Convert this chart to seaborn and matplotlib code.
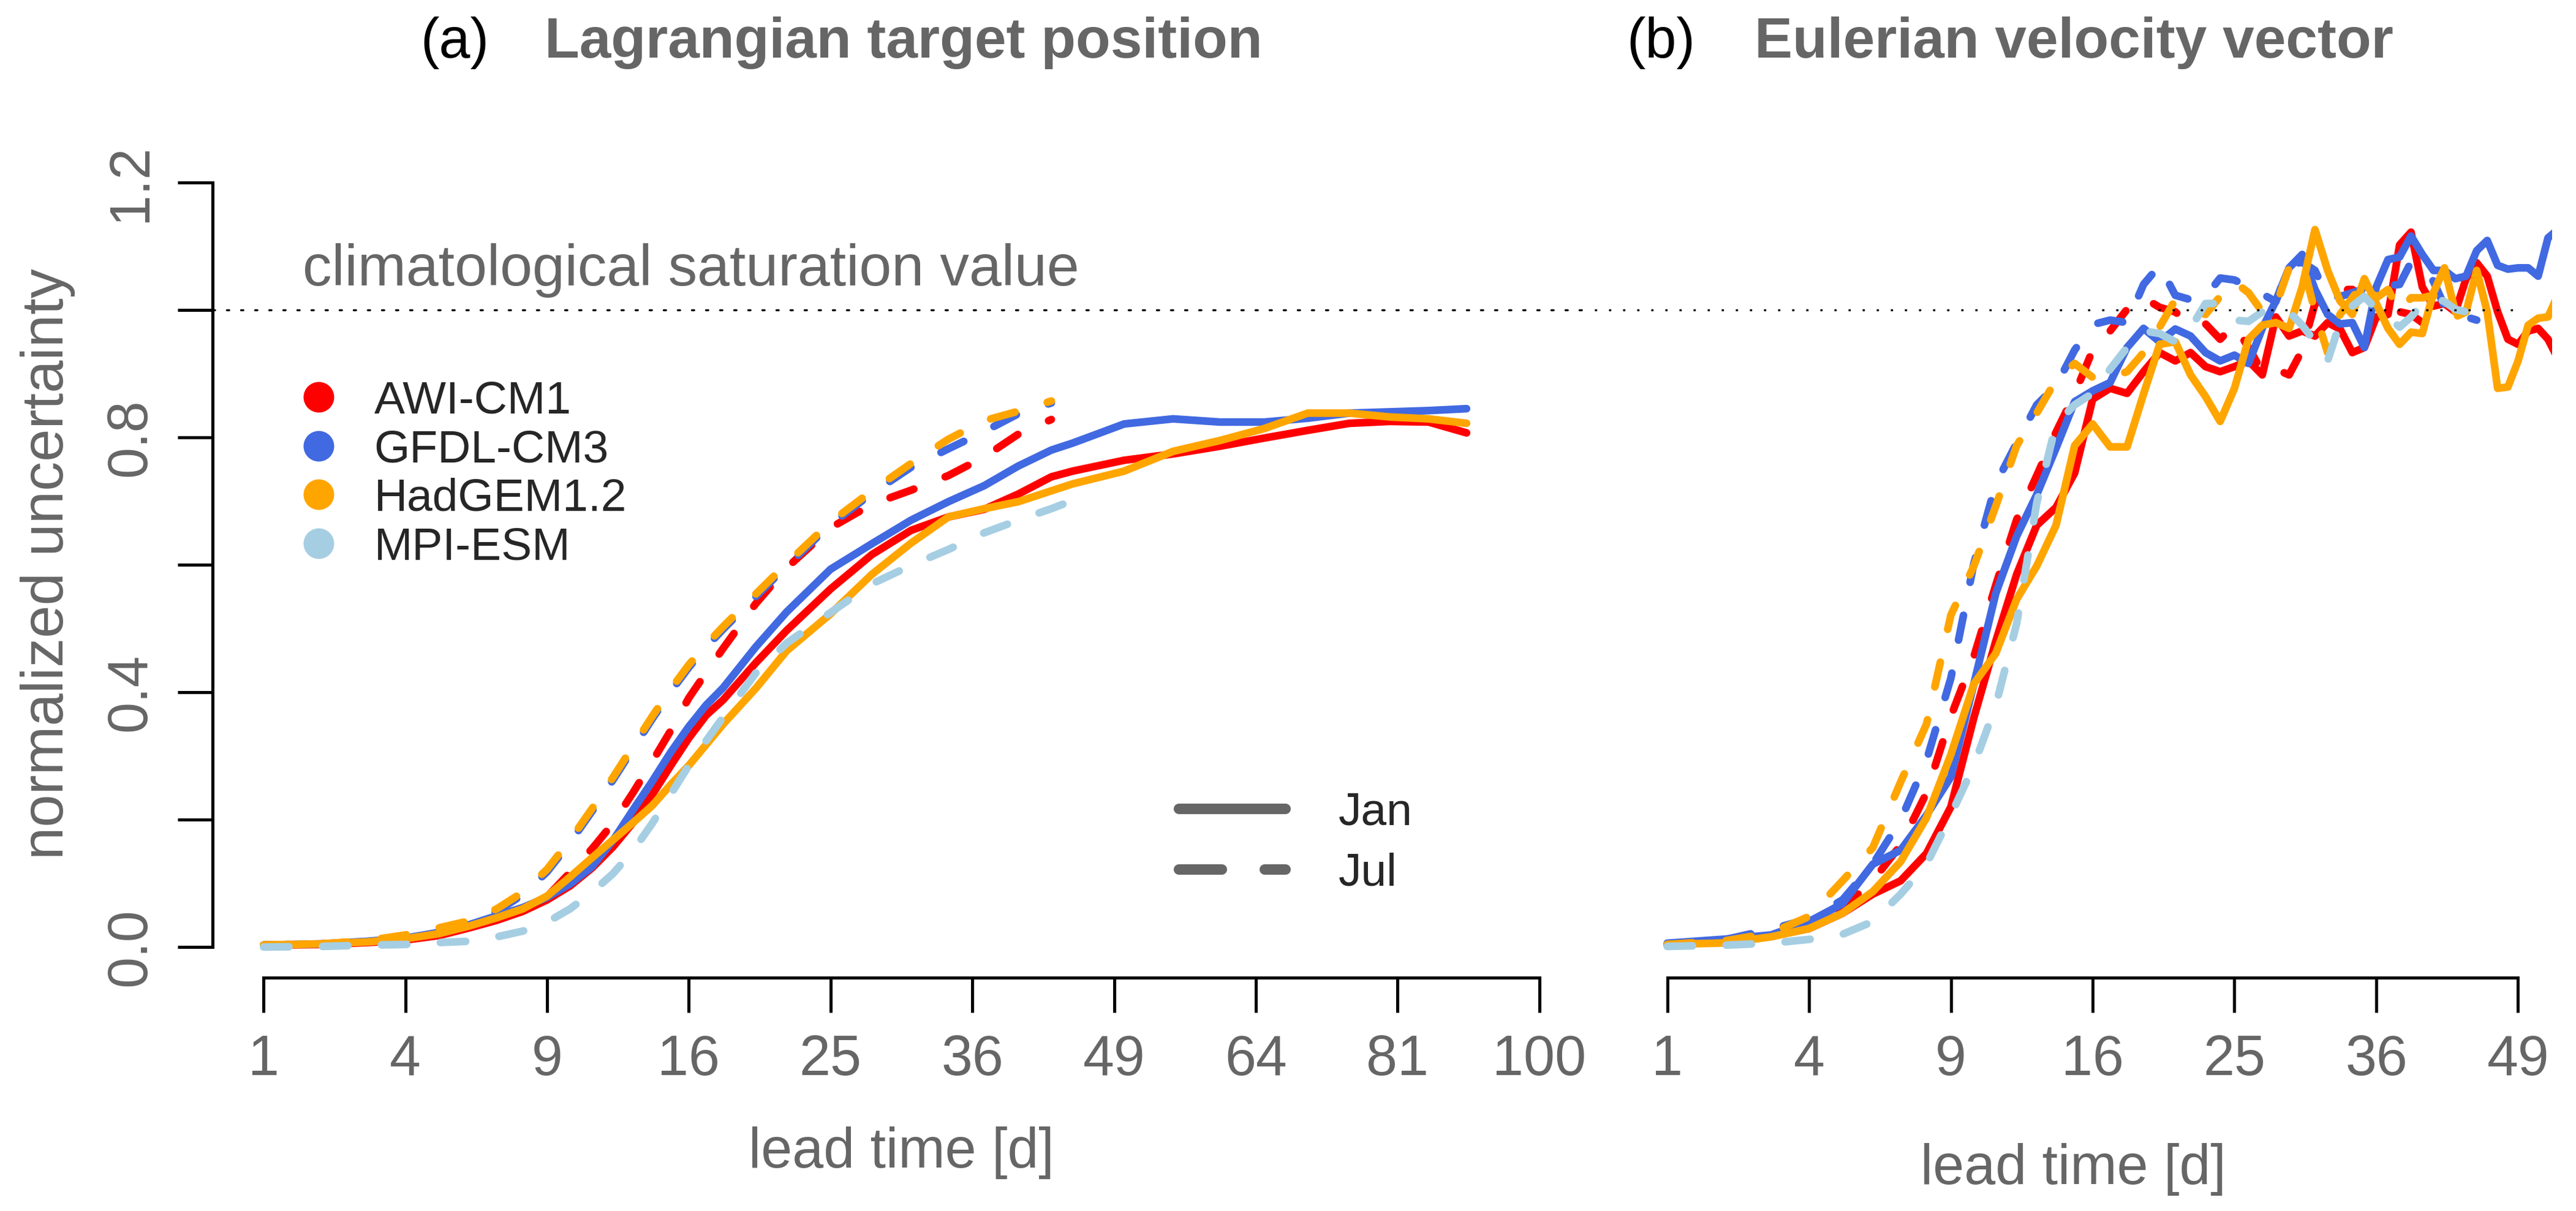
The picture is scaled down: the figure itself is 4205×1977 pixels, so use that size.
import numpy as np
import pandas as pd
import seaborn as sns
import matplotlib.pyplot as plt
from matplotlib.lines import Line2D
from matplotlib.ticker import NullLocator

models = ['AWI-CM1', 'GFDL-CM3', 'HadGEM1.2', 'MPI-ESM']
colors = ['#FF0000', '#4169E1', '#FFA500', '#A6CEE3']
grey = '#666666'

# ---- panel (a): Lagrangian target position ----
a_days = [1, 2, 3, 4, 5, 6, 7, 8, 9, 10, 11, 12, 13, 14, 15, 16, 17, 18, 20, 22,
          25, 28, 31, 34, 37, 40, 43, 45, 50, 55, 60, 65, 70, 75, 80, 85, 90]
a_days_jul = a_days[:27]      # Jul runs end at day 43
a_days_jul_mpi = a_days[:28]  # MPI Jul ends at day 45

a_awi_jan = [0.003, 0.004, 0.007, 0.011, 0.018, 0.030, 0.042, 0.056, 0.074, 0.096,
             0.124, 0.157, 0.195, 0.239, 0.285, 0.328, 0.364, 0.388, 0.446, 0.497,
             0.562, 0.616, 0.654, 0.675, 0.687, 0.711, 0.738, 0.747, 0.764, 0.774,
             0.786, 0.799, 0.811, 0.822, 0.825, 0.824, 0.807]
a_gfdl_jan = [0.003, 0.005, 0.009, 0.014, 0.023, 0.035, 0.049, 0.062, 0.078, 0.099,
              0.126, 0.167, 0.215, 0.260, 0.306, 0.346, 0.380, 0.407, 0.471, 0.526,
              0.593, 0.633, 0.670, 0.699, 0.724, 0.755, 0.780, 0.791, 0.821, 0.829,
              0.824, 0.824, 0.830, 0.838, 0.840, 0.842, 0.845]
a_had_jan = [0.003, 0.005, 0.008, 0.013, 0.021, 0.033, 0.046, 0.060, 0.080, 0.110,
             0.140, 0.168, 0.195, 0.222, 0.255, 0.285, 0.318, 0.350, 0.406, 0.465,
             0.523, 0.585, 0.634, 0.675, 0.688, 0.699, 0.716, 0.727, 0.747, 0.778,
             0.795, 0.814, 0.838, 0.838, 0.832, 0.829, 0.822]

a_awi_jul = [0.003, 0.005, 0.008, 0.014, 0.022, 0.033, 0.045, 0.056, 0.079, 0.117,
             0.154, 0.194, 0.242, 0.291, 0.340, 0.391, 0.431, 0.469, 0.539, 0.595,
             0.658, 0.695, 0.717, 0.740, 0.769, 0.805, 0.828]
a_gfdl_jul = [0.003, 0.004, 0.007, 0.015, 0.026, 0.037, 0.056, 0.082, 0.118, 0.164,
              0.213, 0.262, 0.311, 0.358, 0.401, 0.439, 0.471, 0.499, 0.550, 0.598,
              0.663, 0.712, 0.753, 0.782, 0.809, 0.837, 0.854]
a_had_jul = [0.003, 0.005, 0.010, 0.019, 0.030, 0.041, 0.060, 0.086, 0.122, 0.168,
             0.217, 0.266, 0.315, 0.362, 0.405, 0.443, 0.475, 0.503, 0.554, 0.602,
             0.667, 0.716, 0.759, 0.797, 0.826, 0.841, 0.857]
a_mpi_jul = [0.000, 0.001, 0.003, 0.004, 0.007, 0.009, 0.016, 0.025, 0.039, 0.060,
             0.086, 0.115, 0.151, 0.194, 0.240, 0.285, 0.324, 0.361, 0.430, 0.477,
             0.525, 0.570, 0.599, 0.624, 0.650, 0.670, 0.688, 0.701]

# ---- panel (b): Eulerian velocity vector ----
b_days_jan = list(range(1, 54))

b_awi_jan = [0.004, 0.010, 0.017, 0.029, 0.053, 0.083, 0.104, 0.147, 0.220, 0.360,
             0.480, 0.585, 0.662, 0.690, 0.744, 0.860, 0.877, 0.869, 0.903, 0.933,
             0.920, 0.933, 0.911, 0.903, 0.911, 0.920, 0.898, 0.989, 0.959, 0.967,
             0.959, 0.980, 0.970, 0.933, 0.941, 0.989, 0.993, 1.102, 1.122, 1.036,
             1.006, 1.010, 0.997, 1.049, 1.074, 1.053, 0.997, 0.954, 0.946, 0.967,
             0.971, 0.954, 0.924]
b_gfdl_jan = [0.006, 0.0125, 0.019, 0.040, 0.068, 0.130, 0.152, 0.207, 0.267, 0.413,
              0.555, 0.645, 0.710, 0.783, 0.856, 0.873, 0.886, 0.941, 0.971, 0.950,
              0.970, 0.959, 0.933, 0.920, 0.929, 0.916, 0.971, 1.014, 1.066, 1.087,
              1.032, 0.993, 0.978, 0.980, 0.941, 1.036, 1.079, 1.083, 1.116, 1.087,
              1.062, 1.062, 1.049, 1.053, 1.093, 1.109, 1.070, 1.064, 1.066, 1.066,
              1.053, 1.113, 1.126]
b_had_jan = [0.004, 0.0065, 0.016, 0.029, 0.053, 0.087, 0.134, 0.203, 0.302, 0.413,
             0.461, 0.546, 0.598, 0.662, 0.787, 0.821, 0.785, 0.785, 0.868, 0.946,
             0.950, 0.898, 0.864, 0.825, 0.877, 0.954, 0.976, 0.980, 0.971, 1.036,
             1.126, 1.062, 1.014, 0.993, 1.049, 1.010, 0.971, 0.946, 0.965, 0.963,
             1.027, 1.066, 0.997, 0.997, 1.062, 0.997, 0.877, 0.879, 0.920, 0.976,
             0.987, 0.989, 1.023]

b_awi_jul = [0.004, 0.008, 0.016, 0.040, 0.061, 0.104, 0.160, 0.242, 0.362, 0.456,
             0.568, 0.671, 0.740, 0.808, 0.868, 0.937, 0.967, 1.001, 1.019, 1.004,
             0.997, 0.976, 0.978, 0.954, 0.976, 0.941, 0.903, 0.907, 0.898, 0.937,
             1.010, 1.021, 1.032, 1.032, 1.019, 1.014, 1.010, 0.997, 0.993, 0.980,
             0.980, 0.997, 1.006]
b_gfdl_jul = [0.004, 0.012, 0.028, 0.044, 0.074, 0.130, 0.199, 0.293, 0.422, 0.602,
              0.727, 0.791, 0.851, 0.881, 0.937, 0.977, 0.984, 0.980, 1.040, 1.070,
              1.023, 1.016, 1.021, 1.050, 1.047, 1.036, 1.025, 1.013, 1.070, 1.075,
              1.062, 1.019, 1.021, 1.027, 1.033, 1.040, 1.038, 1.040, 1.075, 1.062,
              1.045, 1.006, 0.989, 0.989, 0.984]
b_had_jul = [0.004, 0.010, 0.022, 0.048, 0.104, 0.156, 0.259, 0.350, 0.521, 0.598,
             0.692, 0.787, 0.838, 0.890, 0.916, 0.894, 0.894, 0.903, 0.933, 0.973,
             1.016, 1.001, 0.993, 1.021, 1.044, 1.027, 0.997, 1.006, 1.066, 1.077,
             0.997, 0.933, 0.993, 1.019, 1.045, 1.019, 1.032, 0.997, 1.019, 1.019,
             1.023, 0.997, 0.989, 0.997]
b_mpi_jul = [0.001, 0.003, 0.006, 0.012, 0.020, 0.040, 0.083, 0.130, 0.207, 0.285,
             0.379, 0.508, 0.697, 0.821, 0.851, 0.869, 0.907, 0.941, 0.967, 0.963,
             0.950, 0.971, 1.010, 1.010, 0.984, 0.982, 0.997, 1.001, 0.997, 0.976,
             0.950, 0.920, 0.980, 1.006, 1.021, 1.001, 0.989, 0.973, 0.989, 1.010,
             1.021, 1.013, 1.001, 0.997, 0.993]


def to_long(series):
    parts = []
    for model, month, days, vals in series:
        parts.append(pd.DataFrame({'model': model, 'month': month,
                                   'day': days[:len(vals)], 'u': vals}))
    return pd.concat(parts, ignore_index=True)


df_a = to_long([
    ('AWI-CM1', 'Jan', a_days, a_awi_jan),
    ('AWI-CM1', 'Jul', a_days_jul, a_awi_jul),
    ('GFDL-CM3', 'Jan', a_days, a_gfdl_jan),
    ('GFDL-CM3', 'Jul', a_days_jul, a_gfdl_jul),
    ('HadGEM1.2', 'Jan', a_days, a_had_jan),
    ('HadGEM1.2', 'Jul', a_days_jul, a_had_jul),
    ('MPI-ESM', 'Jul', a_days_jul_mpi, a_mpi_jul),
])
df_b = to_long([
    ('AWI-CM1', 'Jan', b_days_jan, b_awi_jan),
    ('AWI-CM1', 'Jul', b_days_jan, b_awi_jul),
    ('GFDL-CM3', 'Jan', b_days_jan, b_gfdl_jan),
    ('GFDL-CM3', 'Jul', b_days_jan, b_gfdl_jul),
    ('HadGEM1.2', 'Jan', b_days_jan, b_had_jan),
    ('HadGEM1.2', 'Jul', b_days_jan, b_had_jul),
    ('MPI-ESM', 'Jul', b_days_jan, b_mpi_jul),
])

sns.set_style('ticks')
plt.rcParams['font.family'] = ['Liberation Sans', 'DejaVu Sans']
plt.rcParams['lines.solid_capstyle'] = 'round'
plt.rcParams['lines.dash_capstyle'] = 'round'

fs = 22
fig = plt.figure(figsize=(4205 / 300, 1977 / 300), dpi=300)
ax_a = fig.add_axes([0.08252, 0.19272, 0.53484, 0.68184])
ax_b = fig.add_axes([0.63401, 0.19272, 0.35672, 0.68184])

pal = dict(zip(models, colors))
for ax, df in ((ax_a, df_a), (ax_b, df_b)):
    sns.lineplot(data=df, x='day', y='u', hue='model', style='month',
                 hue_order=models, style_order=['Jan', 'Jul'], palette=pal,
                 dashes={'Jan': '', 'Jul': (3.3, 4.4)}, estimator=None,
                 legend=False, lw=3.0, ax=ax,
                 solid_capstyle='round', dash_capstyle='round')
    ax.set_xscale('function', functions=(np.sqrt, np.square))
    ax.xaxis.set_minor_locator(NullLocator())
    ax.set_ylim(-0.048, 1.248)
    ax.set_xlabel('')
    ax.set_ylabel('')
    for s in ('top', 'right'):
        ax.spines[s].set_visible(False)
    for s in ax.spines.values():
        s.set_linewidth(1.2)
        s.set_color('black')
    ax.tick_params(axis='both', direction='out', length=13.7, width=1.2,
                   color='black', labelcolor=grey, labelsize=fs)
    ax.tick_params(axis='x', pad=8.5)

# panel a axes
ax_a.set_xlim(0.64 ** 2, 10.36 ** 2)
a_ticks = [1, 4, 9, 16, 25, 36, 49, 64, 81, 100]
ax_a.set_xticks(a_ticks)
ax_a.set_xticklabels([str(t) for t in a_ticks])
ax_a.spines['bottom'].set_bounds(1, 100)
ax_a.spines['left'].set_bounds(0, 1.2)
ax_a.set_yticks([0, 0.2, 0.4, 0.6, 0.8, 1.0, 1.2])
ax_a.set_yticklabels(['0.0', '', '0.4', '', '0.8', '', '1.2'],
                     rotation=90, va='center')
ax_a.tick_params(axis='y', pad=8)

# panel b axes
ax_b.set_xlim(0.76 ** 2, 7.24 ** 2)
b_ticks = [1, 4, 9, 16, 25, 36, 49]
ax_b.set_xticks(b_ticks)
ax_b.set_xticklabels([str(t) for t in b_ticks])
ax_b.spines['bottom'].set_bounds(1, 49)
ax_b.spines['left'].set_visible(False)
ax_b.set_yticks([])

# saturation line
dot = (0, (1.1, 5.8))
ax_a.axhline(1.0, color='black', lw=0.8, ls=dot)
ax_b.hlines(1.0, 0.236, 49, color='black', lw=0.8, ls=dot, clip_on=False)
ax_a.text(1.63, 1.038, 'climatological saturation value', color=grey,
          fontsize=22.8, ha='left', va='baseline')

# axis labels
ax_a.set_xlabel('lead time [d]', color=grey, fontsize=fs)
ax_a.xaxis.set_label_coords(0.5, -0.180)
ax_b.set_xlabel('lead time [d]', color=grey, fontsize=fs)
ax_b.xaxis.set_label_coords(0.479, -0.200)
fig.text(78 / 4205, 1 - 921 / 1977, 'normalized uncertainty', color=grey,
         fontsize=fs + 1, rotation=90, ha='center', va='center')

# titles
ty = 1 - 94 / 1977
fig.text(686 / 4205, ty, '(a)', fontsize=fs, color='black', va='baseline')
fig.text(889 / 4205, ty, 'Lagrangian target position', fontsize=22.3,
         color=grey, fontweight='bold', va='baseline')
fig.text(2655 / 4205, ty, '(b)', fontsize=fs, color='black', va='baseline')
fig.text(2864 / 4205, ty, 'Eulerian velocity vector', fontsize=22.3,
         color=grey, fontweight='bold', va='baseline')

# legends
lfs = 18
model_handles = [Line2D([], [], ls='none', marker='o', ms=12, color=c, mew=0)
                 for c in colors]
leg1 = ax_a.legend(model_handles, models, loc='upper left',
                   bbox_to_anchor=(0.0602, 0.7235), frameon=False,
                   fontsize=lfs, handlelength=1.0, handletextpad=0.71,
                   labelspacing=0.14, borderpad=0, borderaxespad=0)
ax_a.add_artist(leg1)
month_handles = [Line2D([], [], color=grey, lw=4.1),
                 Line2D([], [], color=grey, lw=4.1, ls=(0, (4.1, 4.1)))]
ax_a.legend(month_handles, ['Jan', 'Jul'], loc='upper left',
            bbox_to_anchor=(0.7010, 0.2250), frameon=False, fontsize=lfs,
            handlelength=2.33, handletextpad=1.15, labelspacing=0.40,
            borderpad=0, borderaxespad=0)

fig.savefig('out.png', dpi=300)
